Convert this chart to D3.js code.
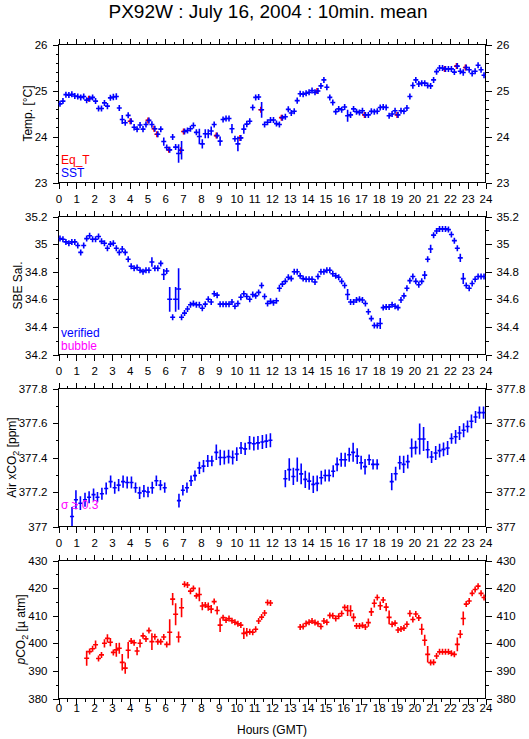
<!DOCTYPE html>
<html><head><meta charset="utf-8">
<script src="https://cdn.jsdelivr.net/npm/d3@7"></script>
<style>
body{margin:0;background:#fff}
text{font-family:"Liberation Sans",Arial,Helvetica,sans-serif}
</style></head><body><svg id="c" width="529" height="739"></svg>
<script>
// ---------- DATA ----------
const titleText = "PX92W : July 16, 2004 : 10min. mean";
const hourTicks = [0,1,2,3,4,5,6,7,8,9,10,11,12,13,14,15,16,17,18,19,20,21,22,23,24];
const hourMinorTicks = [0.5,1.5,2.5,3.5,4.5,5.5,6.5,7.5,8.5,9.5,10.5,11.5,12.5,13.5,14.5,15.5,16.5,17.5,18.5,19.5,20.5,21.5,22.5,23.5];
const tempTicks = [23,24,25,26];
const salTicks = [34.2,34.4,34.6,34.8,35,35.2];
const airTicks = [377,377.2,377.4,377.6,377.8];
const pco2Ticks = [380,390,400,410,420,430];

// 10-minute means: one value per 10-min bin (144 bins in the day)
const tenMinHours = d3.range(144).map(i => (i + 0.5) / 6);

const sst = [
24.71,24.77,24.91,24.90,24.92,24.88,24.87,24.85,24.87,24.79,
24.82,24.85,24.77,24.61,24.61,24.73,24.66,24.84,24.86,24.87,
24.62,24.37,24.30,24.46,24.33,24.20,24.16,24.25,24.16,24.26,
24.35,24.26,24.17,24.05,24.16,23.89,23.76,23.71,23.99,23.77,
23.63,23.70,24.11,24.13,24.17,24.24,24.09,24.00,23.84,24.06,
24.06,24.12,24.26,24.02,23.90,24.37,24.39,24.39,24.17,23.95,
23.84,23.97,24.16,24.27,24.33,24.63,24.85,24.86,24.58,24.26,
24.31,24.36,24.36,24.28,24.26,24.41,24.43,24.59,24.51,24.55,
24.78,24.93,24.92,24.94,24.96,25.00,24.96,24.99,25.10,25.23,
25.07,24.85,24.74,24.54,24.60,24.58,24.64,24.45,24.47,24.60,
24.54,24.52,24.56,24.47,24.47,24.55,24.54,24.55,24.63,24.64,
24.63,24.45,24.49,24.56,24.47,24.56,24.55,24.62,24.87,25.11,
25.23,25.14,25.16,25.16,25.11,25.10,25.23,25.41,25.49,25.49,
25.47,25.47,25.47,25.40,25.53,25.42,25.39,25.50,25.45,25.37,
25.42,25.55,25.45,25.33];
const sstSd = [
0.05,0.06,0.05,0.05,0.02,0.02,0.02,0.02,0.02,0.05,
0.04,0.05,0.04,0.05,0.05,0.02,0.07,0.06,0.07,0.07,
0.02,0.10,0.04,0.02,0.02,0.07,0.05,0.06,0.07,0.06,
0.02,0.07,0.02,0.02,0.04,0.09,0.03,0.05,0.06,0.06,
0.20,0.20,0.02,0.02,0.03,0.02,0.05,0.17,0.10,0.10,
0.10,0.10,0.04,0.05,0.10,0.02,0.02,0.02,0.10,0.02,
0.16,0.02,0.10,0.07,0.05,0.05,0.02,0.02,0.17,0.04,
0.04,0.02,0.02,0.02,0.02,0.06,0.06,0.02,0.02,0.02,
0.07,0.02,0.02,0.02,0.02,0.02,0.02,0.02,0.06,0.02,
0.05,0.03,0.03,0.02,0.02,0.02,0.02,0.13,0.07,0.03,
0.03,0.03,0.02,0.02,0.03,0.02,0.02,0.02,0.02,0.02,
0.02,0.05,0.03,0.02,0.02,0.02,0.02,0.04,0.04,0.07,
0.03,0.02,0.02,0.02,0.02,0.02,0.06,0.03,0.02,0.02,
0.02,0.02,0.02,0.02,0.04,0.06,0.07,0.02,0.03,0.03,
0.02,0.04,0.03,0.05];

const eqtHours = [1.70,4.03,5.03,5.37,5.53,6.20,6.87,7.03,8.87,10.20,11.37,12.53,14.53,17.20,19.03,21.70,22.37,22.87];
const eqtValues = [24.82,24.33,24.35,24.17,24.05,23.71,23.70,24.11,24.02,23.97,24.58,24.41,24.99,24.47,24.47,25.47,25.53,25.50];

const sal = [
35.04,35.035,35.016,35.006,35.016,35.016,34.99,34.94,34.99,35.04,
35.06,35.035,35.035,35.055,35.02,35.006,34.97,35.00,35.006,34.97,
34.94,34.965,34.94,34.89,34.84,34.825,34.83,34.81,34.80,34.81,
34.81,34.87,34.825,34.825,34.86,34.78,34.805,34.60,34.47,34.60,
34.675,34.47,34.50,34.53,34.56,34.57,34.56,34.56,34.535,34.565,
34.60,34.58,34.64,34.63,34.565,34.565,34.565,34.565,34.58,34.55,
34.57,34.615,34.64,34.62,34.60,34.635,34.625,34.65,34.70,34.62,
34.57,34.585,34.575,34.59,34.68,34.71,34.73,34.76,34.75,34.80,
34.80,34.77,34.75,34.745,34.745,34.745,34.725,34.765,34.80,34.80,
34.81,34.81,34.785,34.77,34.76,34.73,34.70,34.635,34.58,34.58,
34.595,34.60,34.595,34.57,34.51,34.46,34.41,34.41,34.425,34.54,
34.545,34.545,34.56,34.55,34.54,34.595,34.625,34.68,34.735,34.765,
34.73,34.705,34.73,34.775,34.89,34.965,35.065,35.095,35.11,35.11,
35.11,35.105,35.07,35.025,34.97,34.90,34.75,34.70,34.68,34.715,
34.745,34.765,34.765,34.765];
const salSd = [
0.01,0.005,0.005,0.005,0.005,0.005,0.01,0.015,0.02,0.015,
0.01,0.01,0.015,0.02,0.01,0.005,0.005,0.005,0.01,0.005,
0.01,0.005,0.01,0.005,0.01,0.005,0.005,0.005,0.005,0.005,
0.005,0.035,0.01,0.01,0.005,0.04,0.015,0.09,0.005,0.09,
0.15,0.005,0.005,0.01,0.005,0.005,0.005,0.01,0.005,0.01,
0.02,0.01,0.02,0.01,0.01,0.005,0.005,0.005,0.005,0.005,
0.005,0.02,0.01,0.01,0.005,0.01,0.005,0.01,0.02,0.02,
0.01,0.01,0.005,0.01,0.025,0.01,0.01,0.015,0.01,0.005,
0.005,0.005,0.005,0.005,0.005,0.005,0.005,0.02,0.005,0.005,
0.005,0.005,0.005,0.005,0.005,0.01,0.01,0.04,0.005,0.005,
0.005,0.005,0.005,0.005,0.02,0.015,0.005,0.005,0.04,0.015,
0.01,0.01,0.005,0.005,0.01,0.015,0.01,0.015,0.015,0.01,
0.01,0.015,0.015,0.03,0.02,0.03,0.015,0.005,0.005,0.005,
0.005,0.005,0.005,0.01,0.02,0.03,0.04,0.01,0.005,0.01,
0.005,0.005,0.005,0.005];

const airHours = [
0.76,0.98,1.23,1.49,1.72,1.97,2.19,2.44,2.68,2.93,3.16,3.38,3.63,3.86,4.10,4.33,4.56,4.80,5.03,5.27,5.50,5.73,5.97,
6.77,6.99,7.22,7.45,7.67,7.92,8.15,8.39,8.62,8.87,9.09,9.32,9.56,9.79,10.02,10.26,10.49,10.74,10.98,11.21,11.46,11.68,11.91,
12.75,12.97,13.20,13.42,13.64,13.87,14.09,14.32,14.54,14.77,14.99,15.21,15.44,15.66,15.89,16.11,16.34,16.56,16.79,17.01,17.23,17.46,17.68,17.91,
18.73,18.95,19.18,19.40,19.63,19.85,20.07,20.30,20.52,20.75,20.97,21.20,21.42,21.64,21.87,22.09,22.32,22.54,22.77,22.99,23.21,23.44,23.66,23.89];
const airValues = [
377.058,377.155,377.135,377.155,377.17,377.185,377.17,377.19,377.22,377.26,377.225,377.24,377.26,377.255,377.255,377.225,377.195,377.205,377.20,377.225,377.265,377.24,377.225,
377.15,377.21,377.225,377.265,377.295,377.34,377.35,377.38,377.38,377.43,377.40,377.40,377.405,377.40,377.42,377.455,377.45,377.485,377.48,377.485,377.49,377.495,377.50,
377.277,377.33,377.29,377.33,377.305,377.273,377.263,377.244,377.25,377.283,377.296,377.296,377.32,377.36,377.387,377.387,377.416,377.43,377.408,377.37,377.347,377.387,377.36,377.36,
377.26,377.306,377.37,377.36,377.376,377.455,377.457,377.507,377.507,377.445,377.403,377.426,377.44,377.447,377.455,377.51,377.52,377.542,377.558,377.58,377.61,377.635,377.66,377.66];
const airSd = [
0.055,0.055,0.04,0.04,0.035,0.035,0.03,0.035,0.035,0.035,0.035,0.035,0.035,0.035,0.035,0.03,0.035,0.035,0.03,0.035,0.03,0.03,0.03,
0.04,0.03,0.03,0.03,0.03,0.035,0.035,0.035,0.03,0.045,0.045,0.04,0.04,0.04,0.04,0.035,0.035,0.04,0.04,0.04,0.04,0.04,0.04,
0.05,0.065,0.05,0.07,0.06,0.05,0.05,0.05,0.045,0.04,0.035,0.035,0.035,0.04,0.04,0.04,0.04,0.055,0.045,0.04,0.045,0.03,0.03,0.03,
0.05,0.04,0.04,0.05,0.04,0.055,0.04,0.09,0.07,0.05,0.035,0.04,0.04,0.04,0.04,0.03,0.04,0.04,0.04,0.035,0.04,0.035,0.035,0.035];

const pco2 = [
null,null,null,null,null,null,null,null,null,394.6,
397.0,398.0,399.5,394.5,395.8,400.0,401.8,400.4,396.7,397.6,
398.2,393.1,391.0,397.5,400.8,400.2,397.2,400.0,402.7,401.6,
404.6,400.6,402.4,400.6,400.6,402.3,399.6,404.0,416.0,410.5,
402.3,412.9,421.4,421.1,418.9,419.9,417.2,417.7,413.5,413.9,
413.3,412.4,415.1,411.9,406.6,409.3,408.4,409.0,408.2,407.6,
407.1,406.6,403.6,404.0,404.2,404.0,405.1,408.1,409.5,411.0,
414.8,414.6,null,null,null,null,null,null,null,null,
null,405.9,406.1,407.2,407.6,408.1,407.5,407.1,406.1,408.1,
407.6,410.1,410.0,409.0,409.8,410.8,413.0,411.9,411.8,409.4,
406.3,406.3,406.5,405.9,407.5,411.4,414.5,416.6,413.6,415.7,
413.1,409.4,406.9,407.3,404.8,405.2,405.5,406.9,410.8,408.6,
410.6,409.2,405.1,401.1,396.0,393.0,393.1,395.4,396.9,396.9,
396.9,396.9,396.4,396.0,399.6,403.3,409.0,414.2,415.3,418.1,
419.5,420.7,418.1,416.6];
const pco2Sd = [
0,0,0,0,0,0,0,0,0,2.7,
1.0,1.0,1.5,0.5,0.5,1.5,1.5,1.5,0.5,2.5,
2.0,3.0,2.0,3.0,0.5,0.5,1.5,1.5,0.5,0.5,
0.3,3.0,1.0,0.5,0.5,0.5,0.5,4.7,2.2,4.0,
2.0,3.5,0.3,0.3,0.3,0.3,1.0,2.5,1.5,0.8,
1.5,1.5,0.5,1.5,2.5,1.0,0.5,0.5,0.5,0.5,
0.5,1.0,2.0,1.5,0.5,0.5,0.5,0.5,0.5,1.0,
0.5,0.5,0,0,0,0,0,0,0,0,
0,0.3,0.3,0.3,0.3,0.3,0.3,0.3,0.5,1.0,
1.0,0.3,0.3,0.5,0.5,0.5,0.5,2.0,2.0,1.5,
0.3,0.3,0.3,0.3,1.5,1.5,1.5,0.3,1.5,0.5,
1.5,2.5,0.3,0.5,0.5,1.0,0.3,0.3,1.2,0.5,
0.3,0.5,2.0,2.0,3.0,0.5,0.5,0.5,0.3,0.3,
0.3,0.3,0.3,0.3,2.5,1.5,2.5,0.5,0.5,1.0,
0.5,0.3,1.0,0.5];

// ---------- LAYOUT ----------
const BLUE = "#0000ff", RED = "#ff0000", MAGENTA = "#ff00ff";
const svg = d3.select("#c");
const X0 = 58.5, X1 = 485.5;
const x = d3.scaleLinear().domain([0, 24]).range([X0, X1]);
const TICKFS = 11.5;

svg.append("text").attr("x", 268).attr("y", 18).attr("text-anchor", "middle")
  .attr("font-size", 19).text(titleText);

function rangeStep(lo, hi, step) {
  const out = [];
  const n = Math.round((hi - lo) / step);
  for (let k = 0; k <= n; k++) out.push(+(lo + k * step).toFixed(4));
  return out;
}

function panel(cfg) {
  const top = cfg.top, bottom = cfg.top + 138;
  const y = d3.scaleLinear().domain([cfg.ticks[0], cfg.ticks[cfg.ticks.length - 1]]).range([bottom, top]);
  const g = svg.append("g");
  const minor = rangeStep(cfg.ticks[0], cfg.ticks[cfg.ticks.length - 1], cfg.minor)
    .filter(v => !cfg.ticks.some(t => Math.abs(t - v) < 1e-6));

  const style = sel => {
    sel.select(".domain").remove();
    sel.selectAll("line").attr("stroke", "#000").attr("shape-rendering", "crispEdges");
    sel.selectAll("text").attr("font-size", TICKFS).attr("fill", "#000")
      .attr("font-family", '"Liberation Sans",Arial,sans-serif');
  };
  // bottom axis
  g.append("g").attr("transform", `translate(0,${bottom})`)
    .call(d3.axisBottom(x).tickValues(hourTicks).tickSize(6).tickPadding(cfg.xPad).tickFormat(d => String(d))).call(style);
  g.append("g").attr("transform", `translate(0,${bottom})`)
    .call(d3.axisBottom(x).tickValues(hourMinorTicks).tickSize(3).tickFormat("")).call(style);
  // top axis
  g.append("g").attr("transform", `translate(0,${top})`)
    .call(d3.axisTop(x).tickValues(hourTicks).tickSize(6).tickFormat("")).call(style);
  g.append("g").attr("transform", `translate(0,${top})`)
    .call(d3.axisTop(x).tickValues(hourMinorTicks).tickSize(3).tickFormat("")).call(style);
  // left axis
  const la = g.append("g").attr("transform", `translate(${X0},0)`)
    .call(d3.axisLeft(y).tickValues(cfg.ticks).tickSize(6).tickPadding(5).tickFormat(d => String(d))).call(style);
  g.append("g").attr("transform", `translate(${X0},0)`)
    .call(d3.axisLeft(y).tickValues(minor).tickSize(3).tickFormat("")).call(style);
  // right axis
  g.append("g").attr("transform", `translate(${X1},0)`)
    .call(d3.axisRight(y).tickValues(cfg.ticks).tickSize(6).tickPadding(5).tickFormat(d => String(d))).call(style);
  g.append("g").attr("transform", `translate(${X1},0)`)
    .call(d3.axisRight(y).tickValues(minor).tickSize(3).tickFormat("")).call(style);
  // frame
  g.append("rect").attr("x", X0).attr("y", top).attr("width", X1 - X0).attr("height", bottom - top)
    .attr("fill", "none").attr("stroke", "#000").attr("shape-rendering", "crispEdges");

  // y label, placed just left of the tick labels
  const bb = la.node().getBBox();
  const lab = g.append("text").attr("transform", `translate(${X0 + bb.x - 3},${(top + bottom) / 2}) rotate(-90)`)
    .attr("text-anchor", "middle").attr("font-size", 12);
  cfg.label(lab);

  // clip
  const cid = "clip" + Math.round(cfg.top);
  svg.append("clipPath").attr("id", cid).append("rect")
    .attr("x", X0).attr("y", top).attr("width", X1 - X0).attr("height", bottom - top);
  const m = g.append("g").attr("clip-path", `url(#${cid})`);
  return {g, m, y, top, bottom};
}

function drawMarks(p, hours, vals, sds, color, hw, sw) {
  const pts = hours.map((h, i) => ({h, v: vals[i], s: sds ? sds[i] : 0})).filter(d => d.v != null);
  const grp = p.m.append("g").attr("stroke", color).attr("stroke-width", sw);
  grp.selectAll("line.v").data(pts).join("line").attr("class", "v")
    .attr("x1", d => x(d.h)).attr("x2", d => x(d.h))
    .attr("y1", d => Math.max(p.y(d.v - d.s), p.y(d.v) + 3))
    .attr("y2", d => Math.min(p.y(d.v + d.s), p.y(d.v) - 3));
  grp.selectAll("line.h").data(pts).join("line").attr("class", "h")
    .attr("x1", d => x(d.h - hw)).attr("x2", d => x(d.h + hw))
    .attr("y1", d => p.y(d.v)).attr("y2", d => p.y(d.v));
}

function legend(p, items) {
  items.forEach(it => {
    p.g.append("text").attr("x", 61).attr("y", it.y).attr("font-size", 12).attr("fill", it.color).text(it.text);
  });
}

// Panel 1: temperature
const p1 = panel({top: 44.5, ticks: tempTicks, minor: 0.2, xPad: 6,
  label: t => t.text("Temp. [°C]")});
drawMarks(p1, eqtHours, eqtValues, null, RED, 0.14, 1.6);
drawMarks(p1, tenMinHours, sst, sstSd, BLUE, 0.14, 1.6);
legend(p1, [{text: "Eq_T", color: RED, y: 163.5}, {text: "SST", color: BLUE, y: 177}]);

// Panel 2: salinity
const p2 = panel({top: 216.5, ticks: salTicks, minor: 0.1, xPad: 6,
  label: t => t.text("SBE Sal.")});
drawMarks(p2, tenMinHours, sal, salSd, BLUE, 0.14, 1.6);
legend(p2, [{text: "verified", color: BLUE, y: 336.5}, {text: "bubble", color: MAGENTA, y: 349.5}]);

// Panel 3: air xCO2
const p3 = panel({top: 388.5, ticks: airTicks, minor: 0.1, xPad: 6,
  label: t => { t.append("tspan").text("Air xCO");
    t.append("tspan").attr("font-size", 9).attr("dy", 3).text("2");
    t.append("tspan").attr("dy", -3).text(" [ppm]"); }});
drawMarks(p3, airHours, airValues, airSd, BLUE, 0.115, 1.6);
p3.g.append("text").attr("x", 61).attr("y", 508.5).attr("font-size", 12).attr("fill", MAGENTA).text("σ ≥ 0.3");

// Panel 4: pCO2
const p4 = panel({top: 560.5, ticks: pco2Ticks, minor: 5, xPad: -1,
  label: t => { t.append("tspan").attr("font-style", "italic").text("p");
    t.append("tspan").text("CO");
    t.append("tspan").attr("font-size", 9).attr("dy", 3).text("2");
    t.append("tspan").attr("dy", -3).text(" [µ atm]"); }});
drawMarks(p4, tenMinHours, pco2, pco2Sd, RED, 0.14, 1.6);

svg.append("text").attr("x", 272).attr("y", 734).attr("text-anchor", "middle")
  .attr("font-size", 12).text("Hours (GMT)");
</script></body></html>
